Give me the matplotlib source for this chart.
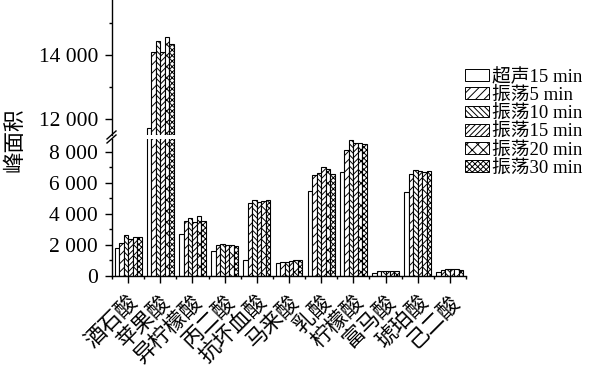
import matplotlib
matplotlib.use("Agg")
import matplotlib.pyplot as plt
import numpy as np
from matplotlib.ticker import FixedLocator, FuncFormatter
from matplotlib.patches import Patch

categories = ["酒石酸", "苹果酸", "异柠檬酸", "丙二酸", "抗坏血酸", "马来酸",
              "乳酸", "柠檬酸", "富马酸", "琥珀酸", "己二酸"]
series_names = ["超声15 min", "振荡5 min", "振荡10 min", "振荡15 min", "振荡20 min", "振荡30 min"]
s_ultra15 = [1780, 11720, 2680, 1590, 1050, 810, 5490, 6690, 210, 5380, 280]
s_shake5 = [2140, 14080, 3540, 2010, 4690, 870, 6510, 8080, 300, 6540, 390]
s_shake10 = [2610, 14430, 3710, 2040, 4870, 930, 6600, 8720, 300, 6800, 430]
s_shake15 = [2410, 14080, 3450, 1970, 4780, 990, 6990, 8530, 290, 6780, 430]
s_shake20 = [2490, 14550, 3830, 1970, 4820, 1000, 6860, 8550, 300, 6690, 430]
s_shake30 = [2540, 14340, 3560, 1950, 4890, 1000, 6540, 8470, 350, 6730, 410]
series = [s_ultra15, s_shake5, s_shake10, s_shake15, s_shake20, s_shake30]
hatches = ["", "////", "\\\\\\\\\\\\", "//////", "xxx", "xxxxxx"]

plt.rcParams['hatch.linewidth'] = 0.7
serif_cjk = ['Liberation Serif', 'Noto Sans CJK SC']

W, H = 601, 371
fig = plt.figure(figsize=(W / 100, H / 100), dpi=100)

def fx(px):
    return px / W

def fy(py):
    return (H - py) / H

left, right = 112, 466
ax_lo = fig.add_axes([fx(left), fy(276), fx(right - left), fy(139) - fy(276)])
ax_hi = fig.add_axes([fx(left), fy(135), fx(right - left), fy(0) - fy(135)])

x = np.arange(len(categories))
bw = 0.139
for ax in (ax_lo, ax_hi):
    for j, vals in enumerate(series):
        ax.bar(x + (j - 2.5) * bw, vals, width=bw, color='white', edgecolor='black',
               linewidth=0.8, hatch=hatches[j])
    ax.set_xlim(-0.5, 10.5)
    for s in ('top', 'right'):
        ax.spines[s].set_visible(False)
    ax.spines['left'].set_linewidth(1.0)
    ax.tick_params(axis='both', which='major', direction='out', length=5, width=1.0,
                   labelsize=15.5, pad=5)
    ax.tick_params(axis='both', which='minor', direction='out', length=2.5, width=1.0)

fmt = FuncFormatter(lambda v, p: "0" if v == 0 else f"{int(v):,}".replace(",", " "))

ax_lo.set_ylim(0, 8810)
ax_lo.yaxis.set_major_locator(FixedLocator([0, 2000, 4000, 6000, 8000]))
ax_lo.yaxis.set_minor_locator(FixedLocator([1000, 3000, 5000, 7000]))
ax_lo.yaxis.set_major_formatter(fmt)
ax_lo.spines['bottom'].set_linewidth(1.0)
ax_lo.xaxis.set_major_locator(FixedLocator(list(x)))
ax_lo.xaxis.set_minor_locator(FixedLocator(list(x - 0.5) + [10.5]))
ax_lo.set_xticklabels(categories, rotation=45, ha='right', va='top',
                      rotation_mode='anchor', fontsize=15.5, family=serif_cjk)
ax_lo.tick_params(axis='x', which='major', pad=6.5)

ax_hi.set_ylim(11512, 15711)
ax_hi.yaxis.set_major_locator(FixedLocator([12000, 14000]))
ax_hi.yaxis.set_minor_locator(FixedLocator([13000, 15000]))
ax_hi.yaxis.set_major_formatter(fmt)
ax_hi.spines['bottom'].set_visible(False)
ax_hi.tick_params(axis='x', which='both', bottom=False, labelbottom=False)

for ax in (ax_lo, ax_hi):
    for lab in ax.get_yticklabels():
        lab.set_family('Liberation Serif')

# break marks
for dy in (-2, 2):
    fig.add_artist(plt.Line2D([fx(107), fx(116)], [fy(141 + dy), fy(133 + dy)],
                              color='black', linewidth=1.0))

fig.text(fx(14), fy(140), "峰面积", rotation=90, ha='center', va='center',
         fontsize=15.5, family=['Noto Sans CJK SC'])

handles = [Patch(facecolor='white', edgecolor='black', linewidth=0.7, hatch=h) for h in hatches]
fig.legend(handles, series_names, loc='upper left', bbox_to_anchor=(fx(465), fy(68)),
           frameon=False, borderpad=0, borderaxespad=0, handlelength=1.3, handleheight=0.6,
           handletextpad=0.15, labelspacing=0.05, prop={'family': serif_cjk, 'size': 13.5})

fig.savefig("out.png", dpi=100)
